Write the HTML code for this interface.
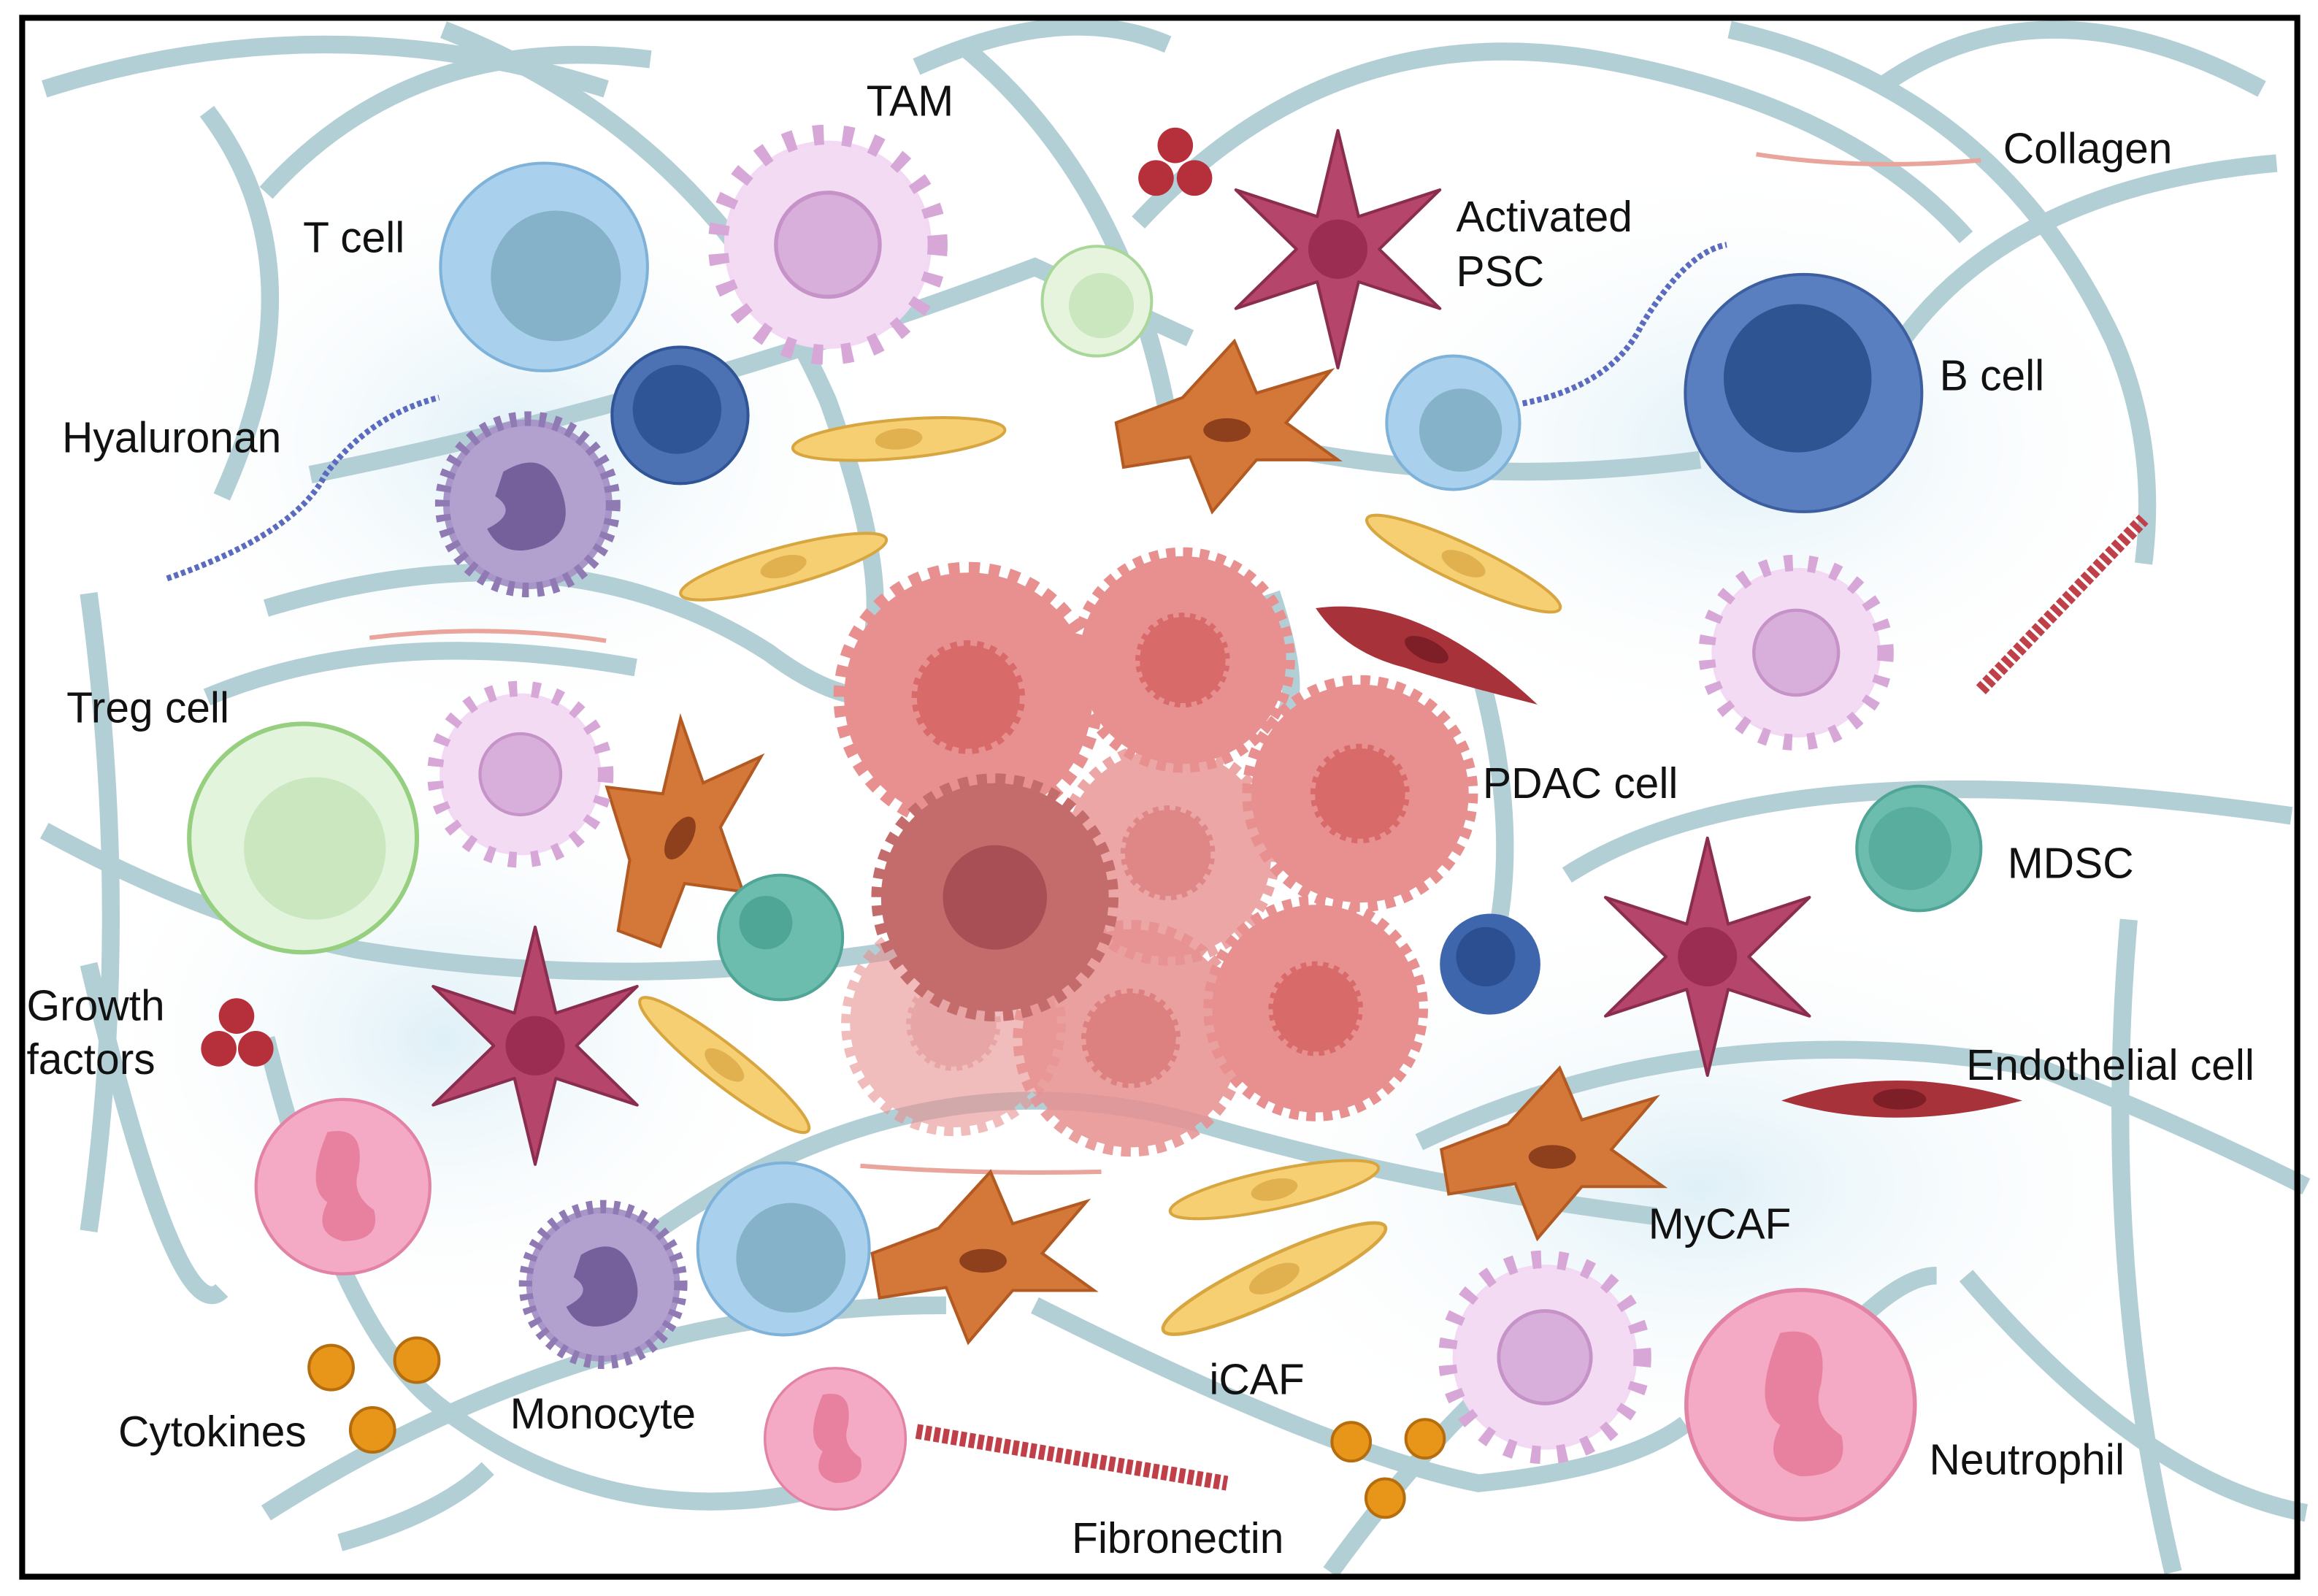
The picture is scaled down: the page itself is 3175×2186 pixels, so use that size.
<!DOCTYPE html>
<html><head><meta charset="utf-8"><style>
html,body{margin:0;padding:0;background:#fff;width:3175px;height:2186px;overflow:hidden}
svg{display:block}
text{font-family:"Liberation Sans",Arial,sans-serif;font-size:29px;fill:#111}
</style></head><body>
<svg width="3175" height="2186" viewBox="0 0 1568 1076" preserveAspectRatio="none" xmlns="http://www.w3.org/2000/svg">
<defs>
<radialGradient id="glow" cx="50%" cy="50%" r="50%"><stop offset="0" stop-color="#dff0f7"/><stop offset="1" stop-color="#fff" stop-opacity="0"/></radialGradient>
<g id="star"><polygon points="0,-80 14,-22 69,-40 28,0 69,40 14,22 0,80 -14,22 -69,40 -28,0 -69,-40 -14,-22" fill="#b5456a" stroke="#8a2d4e" stroke-width="2" stroke-linejoin="round"/><circle r="20" fill="#9b2d52"/></g>
<g id="spiky"><circle r="52" fill="#f3d9f3" stroke="#d7a7d8" stroke-width="16" stroke-dasharray="5 9"/><circle r="50" fill="#f3dcf3"/><circle r="26" fill="#d8aedb" stroke="#c593c8" stroke-width="2"/></g>
<g id="yel"><ellipse rx="72" ry="13" fill="#f6cf72" stroke="#d8a640" stroke-width="2"/><ellipse rx="16" ry="7" fill="#e1b04f"/></g>
<g id="caf"><polygon points="-75,-5 -30,-22 5,-60 20,-25 70,-40 40,-5 75,20 20,20 -10,55 -25,18 -70,25" fill="#d4783a" stroke="#b35a22" stroke-width="2"/><ellipse rx="16" ry="8" fill="#8e3f1c"/></g>
<g id="mono"><circle r="52" fill="#a896c8" stroke="#8f7ab4" stroke-width="10" stroke-dasharray="4 5"/><circle r="48" fill="#b2a1cf"/><path d="M-15,-20 Q10,-35 20,-10 Q30,15 10,25 Q-15,35 -25,15 Q-5,5 -20,-5 Z" fill="#76609c"/></g>
<g id="neut"><circle r="56" fill="#f4a9c4" stroke="#e283a6" stroke-width="2"/><path d="M-10,-35 Q15,-40 10,-10 Q5,5 20,15 Q25,35 0,35 Q-20,30 -10,10 Q-25,0 -10,-35Z" fill="#e7819f"/></g>
<g id="blob"><circle r="70" fill="#e89090" stroke="#e89090" stroke-width="12" stroke-dasharray="6 5"/><circle r="32" fill="#d86a6a" stroke="#e89090" stroke-width="6" stroke-dasharray="4 4"/></g>
</defs>
<rect width="1568" height="1076" fill="#fff"/>
<ellipse cx="350" cy="300" rx="260" ry="200" fill="url(#glow)"/>
<ellipse cx="1180" cy="300" rx="300" ry="200" fill="url(#glow)"/>
<ellipse cx="300" cy="700" rx="250" ry="200" fill="url(#glow)"/>
<ellipse cx="1150" cy="800" rx="350" ry="200" fill="url(#glow)"/>
<g fill="none" stroke="#b3cfd6" stroke-width="12" stroke-linecap="butt">
<path d="M30,60 Q220,0 410,60"/>
<path d="M140,75 Q220,180 150,335"/>
<path d="M180,130 Q280,20 440,40 M620,45 Q720,0 790,30"/>
<path d="M300,20 Q480,90 560,270 Q600,380 590,430"/>
<path d="M650,30 Q760,120 790,280"/>
<path d="M770,150 Q900,10 1080,40 Q1250,70 1330,160"/>
<path d="M1170,20 Q1350,60 1430,230 Q1460,300 1450,380"/>
<path d="M1270,60 Q1380,-20 1530,60"/>
<path d="M1250,300 Q1310,130 1540,110"/>
<path d="M210,320 Q460,270 700,180 L805,228"/>
<path d="M60,400 Q90,620 60,830"/>
<path d="M180,410 Q380,350 520,440 Q560,470 590,470"/>
<path d="M140,470 Q260,420 430,450"/>
<path d="M30,560 Q140,620 240,640 Q420,670 610,640"/>
<path d="M60,650 Q120,900 150,870"/>
<path d="M180,700 Q230,900 300,950 Q420,1040 570,1000"/>
<path d="M180,1020 Q400,880 640,880"/>
<path d="M430,840 Q620,700 820,760 Q960,800 1120,820"/>
<path d="M700,880 Q900,980 1000,1000 Q1100,990 1140,960"/>
<path d="M900,1060 Q980,950 1050,900"/>
<path d="M1230,920 Q1280,860 1310,860"/>
<path d="M1060,590 Q1200,500 1550,550"/>
<path d="M960,770 Q1150,680 1380,720 Q1480,760 1560,800"/>
<path d="M1440,620 Q1420,850 1470,1060"/>
<path d="M1330,860 Q1450,1000 1560,1020"/>
<path d="M860,400 Q880,460 870,480"/>
<path d="M1000,450 Q1030,560 1010,640"/>
<path d="M860,300 Q1000,330 1150,310"/>
<path d="M230,1040 Q300,1020 330,990"/>
</g>
<!-- collagen / hyaluronan / fibronectin -->
<path d="M1188,104 Q1260,115 1340,108" stroke="#e9a59b" stroke-width="3" fill="none"/>
<path d="M250,430 Q330,420 410,432" stroke="#e9a59b" stroke-width="3" fill="none"/>
<path d="M582,786 Q660,792 745,790" stroke="#e9a59b" stroke-width="3" fill="none"/>
<path d="M113,390 Q200,360 220,320 Q250,280 297,268" stroke="#5b6cc0" stroke-width="4" stroke-dasharray="3 2" fill="none"/>
<path d="M1030,272 Q1090,260 1110,220 Q1140,170 1168,165" stroke="#5b6cc0" stroke-width="4" stroke-dasharray="3 2" fill="none"/>
<line x1="620" y1="965" x2="830" y2="1000" stroke="#c0404a" stroke-width="10" stroke-dasharray="4 2"/>
<line x1="1340" y1="465" x2="1450" y2="350" stroke="#c0404a" stroke-width="9" stroke-dasharray="4 2"/>
<!-- cells -->
<circle cx="368" cy="180" r="70" fill="#a9d0ec" stroke="#7fb2d8" stroke-width="2"/><circle cx="376" cy="186" r="44" fill="#85b2c9"/>
<circle cx="460" cy="280" r="46" fill="#4d72b4" stroke="#2f5597" stroke-width="2"/><circle cx="458" cy="276" r="30" fill="#2f5597"/>
<use href="#spiky" transform="translate(560,165) scale(1.35)"/>
<g fill="#b5303a"><circle cx="795" cy="98" r="12"/><circle cx="782" cy="120" r="12"/><circle cx="808" cy="120" r="12"/></g>
<circle cx="742" cy="203" r="37" fill="#e6f4de" stroke="#a9d79a" stroke-width="2"/><circle cx="745" cy="206" r="22" fill="#cbe7bf"/>
<use href="#star" transform="translate(905,168)"/>
<circle cx="983" cy="285" r="45" fill="#a9d0ec" stroke="#7fb2d8" stroke-width="2"/><circle cx="988" cy="290" r="28" fill="#85b2c9"/>
<circle cx="1220" cy="265" r="80" fill="#5a7fc0" stroke="#3d5fa0" stroke-width="2"/><circle cx="1216" cy="255" r="50" fill="#2e5591"/>
<use href="#mono" transform="translate(357,340) scale(1.1)"/>
<use href="#yel" transform="translate(608,296) rotate(-5)"/>
<use href="#yel" transform="translate(530,382) rotate(-15)"/>
<use href="#yel" transform="translate(990,380) rotate(25)"/>
<use href="#yel" transform="translate(490,718) rotate(38)"/>
<use href="#yel" transform="translate(862,802) rotate(-12)"/>
<use href="#yel" transform="translate(862,862) rotate(-25) scale(1.15)"/>
<use href="#caf" transform="translate(830,290)"/>
<use href="#caf" transform="translate(460,565) rotate(-60)"/>
<use href="#caf" transform="translate(665,850)"/>
<use href="#caf" transform="translate(1050,780)"/>
<path d="M890,410 Q960,400 1040,475 Q980,460 950,450 Q910,440 890,410Z" fill="#a8323a"/><ellipse cx="965" cy="438" rx="16" ry="7" fill="#7e1f28" transform="rotate(25 965 438)"/>
<use href="#spiky" transform="translate(1215,440) scale(1.1)"/>
<use href="#spiky" transform="translate(352,522) scale(1.05)"/>
<use href="#spiky" transform="translate(1045,915) scale(1.2)"/>
<circle cx="205" cy="565" r="77" fill="#e3f4dc" stroke="#95cf7f" stroke-width="3"/><circle cx="213" cy="572" r="48" fill="#cbe7bf"/>
<circle cx="528" cy="632" r="42" fill="#6dbdae" stroke="#4fa596" stroke-width="2"/><circle cx="518" cy="622" r="18" fill="#4fa596"/>
<circle cx="1298" cy="572" r="42" fill="#6dbdae" stroke="#4fa596" stroke-width="2"/><circle cx="1292" cy="572" r="28" fill="#58ad9e"/>
<!-- PDAC cluster -->
<use href="#blob" transform="translate(655,470) scale(1.2)"/>
<use href="#blob" transform="translate(800,445)"/>
<use href="#blob" transform="translate(920,535) scale(1.05)"/>
<use href="#blob" transform="translate(790,575) scale(1)" style="opacity:.8"/>
<use href="#blob" transform="translate(645,690)" style="opacity:.6"/>
<use href="#blob" transform="translate(765,700) scale(1.05)" style="opacity:.85"/>
<use href="#blob" transform="translate(890,680) scale(1)"/>
<g transform="translate(673,605) scale(1.1)"><circle r="70" fill="#c46c6c" stroke="#c46c6c" stroke-width="12" stroke-dasharray="6 5"/><circle r="32" fill="#a84f55"/></g>
<circle cx="1008" cy="650" r="34" fill="#3e66ad"/><circle cx="1005" cy="645" r="20" fill="#2b4f90"/>
<use href="#star" transform="translate(1155,645)"/>
<use href="#star" transform="translate(362,705)"/>
<g fill="#b5303a"><circle cx="160" cy="685" r="12"/><circle cx="148" cy="707" r="12"/><circle cx="173" cy="707" r="12"/></g>
<path d="M1205,742 Q1280,715 1368,742 Q1280,765 1205,742Z" fill="#a8323a"/><ellipse cx="1285" cy="741" rx="18" ry="7" fill="#7e1f28"/>
<use href="#neut" transform="translate(232,800) scale(1.05)"/>
<use href="#mono" transform="translate(408,866)"/>
<circle cx="530" cy="842" r="58" fill="#a9d0ec" stroke="#7fb2d8" stroke-width="2"/><circle cx="535" cy="848" r="37" fill="#85b2c9"/>
<use href="#neut" transform="translate(565,970) scale(0.85)"/>
<use href="#neut" transform="translate(1218,947) scale(1.38)"/>
<g fill="#e8961a" stroke="#b56d0e" stroke-width="2"><circle cx="224" cy="922" r="15"/><circle cx="282" cy="917" r="15"/><circle cx="252" cy="964" r="15"/><circle cx="914" cy="972" r="13"/><circle cx="964" cy="970" r="13"/><circle cx="937" cy="1010" r="13"/></g>
<!-- labels -->
<text x="586" y="78">TAM</text>
<text x="205" y="170">T cell</text>
<text x="985" y="156">Activated</text>
<text x="985" y="193">PSC</text>
<text x="1355" y="110">Collagen</text>
<text x="42" y="305">Hyaluronan</text>
<text x="1312" y="263">B cell</text>
<text x="45" y="487">Treg cell</text>
<text x="1003" y="538">PDAC cell</text>
<text x="1358" y="592">MDSC</text>
<text x="18" y="688">Growth</text>
<text x="18" y="724">factors</text>
<text x="1330" y="728">Endothelial cell</text>
<text x="1115" y="835">MyCAF</text>
<text x="818" y="940">iCAF</text>
<text x="80" y="975">Cytokines</text>
<text x="345" y="963">Monocyte</text>
<text x="1305" y="994">Neutrophil</text>
<text x="725" y="1047">Fibronectin</text>
<rect x="15" y="12" width="1539" height="1051" fill="none" stroke="#000" stroke-width="4"/>
</svg>
</body></html>
